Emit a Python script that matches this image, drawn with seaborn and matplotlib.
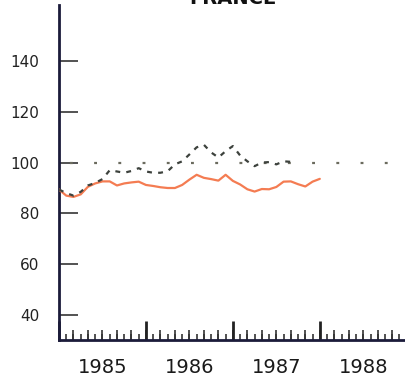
import numpy as np
import pandas as pd
import seaborn as sns
import matplotlib.pyplot as plt
from matplotlib.ticker import FixedLocator, NullFormatter

title = "FRANCE"
start_year = 1985
year_labels = ["1985", "1986", "1987", "1988"]
y_ticks = [40, 60, 80, 100, 120, 140]
ref_level = 100

# monthly index values, starting Jan 1985
solid_vals = [89.4, 87.0, 86.5, 87.5, 90.5, 91.8, 92.6, 92.6, 91.0, 91.8,
              92.2, 92.5, 91.2, 90.8, 90.3, 90.0, 90.0, 91.2, 93.3, 95.2,
              94.0, 93.5, 92.9, 95.2, 92.8, 91.4, 89.5, 88.6, 89.6, 89.5,
              90.4, 92.5, 92.6, 91.5, 90.6, 92.5, 93.6]
dashed_vals = [89.4, 88.0, 87.0, 88.5, 91.0, 92.0, 93.5, 97.0, 96.5, 96.0,
               96.7, 97.8, 96.5, 96.0, 96.0, 96.6, 99.3, 100.5, 103.2, 106.0,
               107.0, 104.0, 102.0, 104.5, 106.5, 102.8, 100.5, 98.6, 100.0, 100.2,
               99.3, 100.5, 100.3]


def frame(vals, name):
    t = start_year + np.arange(len(vals)) / 12
    return pd.DataFrame({"t": t, "value": vals, "series": name})


df = pd.concat([frame(solid_vals, "a"), frame(dashed_vals, "b")])

sns.set_style("white")
fig = plt.figure(figsize=(4.05, 3.78), dpi=100)
ax = fig.add_axes([59 / 405, 1 - 340 / 378, 1 - 59 / 405, 335 / 378])

ax.axhline(ref_level, color="#6b6b5e", lw=1.6, linestyle=(6, (1.3, 9.6)), zorder=1)
sns.lineplot(data=df, x="t", y="value", hue="series", style="series",
             palette={"a": "#f47c52", "b": "#3d423d"},
             dashes={"a": "", "b": (2.2, 2.8)},
             linewidth=1.6, legend=False, ax=ax, zorder=3)

ax.set_xlim(1985, 1988.98)
ax.set_ylim(30.2, 162)
ax.set_xlabel("")
ax.set_ylabel("")

for s in ["top", "right"]:
    ax.spines[s].set_visible(False)
for s in ["left", "bottom"]:
    ax.spines[s].set_color("#1b1b3a")
    ax.spines[s].set_linewidth(2)

ax.set_yticks(y_ticks)
ax.tick_params(axis="y", left=True, direction="in", length=13.5, width=1.3, color="#444444",
               pad=14, labelsize=11, labelcolor="#222222")

# year ticks (long) and monthly ticks (short)
ax.xaxis.set_major_locator(FixedLocator(np.arange(1985, 1989)))
ax.xaxis.set_major_formatter(NullFormatter())
ax.xaxis.set_minor_locator(FixedLocator(1985 + np.arange(1, 48) / 12))
ax.tick_params(axis="x", which="both", bottom=True)
ax.tick_params(axis="x", which="major", direction="in", length=13.5, width=2, color="#222222")
ax.tick_params(axis="x", which="minor", direction="in", length=4.5, width=1.2, color="#333333")

# every second month a bit taller
sec = ax.secondary_xaxis("bottom")
sec.spines["bottom"].set_visible(False)
sec.xaxis.set_major_locator(FixedLocator(1985 + np.arange(2, 48, 2) / 12))
sec.xaxis.set_major_formatter(NullFormatter())
sec.tick_params(axis="x", bottom=True, direction="in", length=7.5, width=1.2, color="#333333")

# year labels centred in each year
lab = ax.secondary_xaxis("bottom")
lab.spines["bottom"].set_visible(False)
lab.set_xticks(np.arange(1985, 1989) + 0.5, year_labels)
lab.tick_params(axis="x", length=0, pad=13, labelsize=14, labelcolor="#1a1a1a")

fig.text(233 / 405, 1 - 4 / 378, title, ha="center", va="baseline",
         fontsize=14, fontweight="bold", color="#111111")

fig.savefig("out.png", dpi=100)
